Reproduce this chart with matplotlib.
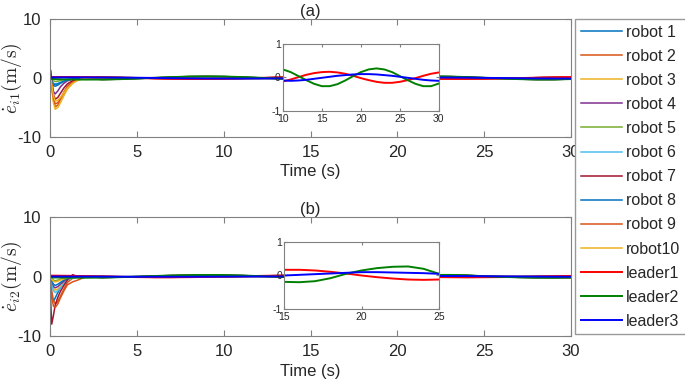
import matplotlib
matplotlib.use('Agg')
import matplotlib.pyplot as plt

plt.rcParams['font.family'] = ['Liberation Sans', 'DejaVu Sans']
plt.rcParams['mathtext.fontset'] = 'cm'
plt.rcParams['axes.unicode_minus'] = False

# leader velocity errors, sampled once per second 0..30 s
t_lead = list(range(0, 31))
leader1_a = [0.16, 0.17, 0.16, 0.12, 0.06, 0.0, -0.07, -0.13, -0.16, -0.16,
             -0.12, -0.06, 0.01, 0.08, 0.13, 0.16, 0.17, 0.15, 0.11, 0.05,
             -0.02, -0.08, -0.13, -0.16, -0.16, -0.13, -0.08, -0.02, 0.05,
             0.11, 0.15]
leader2_a = [-0.17, -0.24, -0.27, -0.26, -0.2, -0.1, 0.03, 0.15, 0.24, 0.27,
             0.24, 0.16, 0.04, -0.08, -0.19, -0.26, -0.26, -0.2, -0.09, 0.04,
             0.16, 0.24, 0.27, 0.24, 0.16, 0.04, -0.08, -0.19, -0.26, -0.26,
             -0.18]
leader3_a = [0.1, 0.1, 0.1, 0.09, 0.07, 0.04, 0.01, -0.03, -0.06, -0.08,
             -0.09, -0.1, -0.09, -0.07, -0.04, -0.01, 0.02, 0.05, 0.07, 0.09,
             0.1, 0.1, 0.09, 0.07, 0.05, 0.02, -0.01, -0.04, -0.07, -0.09,
             -0.1]
leader1_b = [0.15, 0.12, 0.07, 0.01, -0.05, -0.1, -0.13, -0.13, -0.11, -0.07,
             -0.02, 0.04, 0.1, 0.14, 0.17, 0.17, 0.17, 0.15, 0.11, 0.06,
             0.0, -0.05, -0.09, -0.12, -0.13, -0.12, -0.1, -0.06, -0.01,
             0.05, 0.1]
leader2_b = [-0.15, -0.2, -0.21, -0.18, -0.11, -0.02, 0.08, 0.17, 0.23, 0.26,
             0.24, 0.17, 0.07, -0.04, -0.13, -0.19, -0.2, -0.17, -0.08, 0.05,
             0.15, 0.22, 0.26, 0.27, 0.2, 0.05, -0.06, -0.14, -0.19, -0.2,
             -0.18]
leader3_b = [0.0, 0.0, -0.01, -0.02, -0.03, -0.04, -0.04, -0.04, -0.04, -0.03,
             -0.02, -0.01, 0.0, 0.01, 0.01, 0.0, 0.02, 0.04, 0.06, 0.08,
             0.1, 0.1, 0.09, 0.08, 0.07, 0.05, 0.03, 0.01, -0.01, -0.03,
             -0.04]

# robot transients during the first 2 s
t_early = [0, 0.05, 0.1, 0.2, 0.3, 0.45, 0.6, 0.8, 1.0, 1.3, 1.6, 2.0]
robots_a = [
    [0, -0.3, -0.8, -1.3, -1.4, -1.2, -0.9, -0.6, -0.35, -0.15, -0.05, 0.0],
    [0.8, 0.5, -1.5, -3.8, -4.9, -4.6, -3.6, -2.4, -1.4, -0.6, -0.2, 0.05],
    [0.3, 0.0, -1.8, -4.2, -5.3, -5.0, -4.2, -3.0, -1.9, -0.9, -0.35, -0.05],
    [0.2, 0.0, -1.0, -2.3, -2.7, -2.2, -1.5, -0.9, -0.5, -0.2, -0.05, 0.0],
    [0, -0.1, -0.3, -0.5, -0.6, -0.55, -0.45, -0.3, -0.2, -0.1, -0.05, -0.1],
    [0, -0.2, -0.5, -0.9, -1.0, -0.9, -0.75, -0.55, -0.35, -0.15, -0.05, 0.0],
    [1.5, 1.2, -0.5, -2.8, -3.6, -3.3, -2.6, -1.7, -1.0, -0.45, -0.15, 0.0],
    [0, -0.2, -0.6, -1.0, -1.1, -1.0, -0.8, -0.55, -0.35, -0.15, -0.05, 0.0],
    [0.4, 0.2, -1.4, -3.4, -4.4, -4.2, -3.5, -2.5, -1.6, -0.8, -0.3, 0.0],
    [0.2, 0.0, -1.1, -3.0, -3.9, -3.8, -3.3, -2.5, -1.7, -0.9, -0.4, -0.05],
]
robots_b = [
    [0, -1.5, -3.5, -4.2, -3.6, -2.7, -1.9, -1.1, -0.5, -0.1, 0.0, 0.0],
    [0, -1.0, -2.5, -4.0, -4.6, -4.2, -3.3, -2.1, -1.0, -0.3, -0.05, 0.0],
    [0, -0.5, -1.2, -2.0, -2.3, -2.1, -1.7, -1.1, -0.6, -0.2, -0.05, 0.0],
    [0, -0.4, -1.0, -1.7, -1.9, -1.7, -1.3, -0.8, -0.4, -0.1, 0.0, 0.0],
    [0.2, 0.0, -0.3, -0.6, -0.7, -0.6, -0.45, -0.3, -0.15, -0.05, 0.0, 0.0],
    [0, -0.6, -1.5, -2.4, -2.7, -2.4, -1.9, -1.2, -0.6, -0.2, -0.05, 0.0],
    [0, -5.0, -8.0, -6.5, -4.8, -3.5, -2.5, -1.5, -0.6, 0.3, 0.0, 0.0],
    [0, -0.3, -0.8, -1.3, -1.5, -1.3, -1.0, -0.6, -0.3, -0.1, 0.0, 0.0],
    [0, -1.5, -3.5, -5.0, -5.2, -4.6, -3.6, -2.4, -1.4, -0.9, -0.6, -0.1],
    [0, -0.2, -0.5, -0.8, -0.9, -0.8, -0.6, -0.4, -0.2, -0.1, -0.05, 0.0],
]
# which leader each robot ends up tracking (0, 1, 2)
robot_leader = [0, 0, 0, 0, 1, 1, 1, 2, 2, 2]

robot_labels = ['robot 1', 'robot 2', 'robot 3', 'robot 4', 'robot 5',
                'robot 6', 'robot 7', 'robot 8', 'robot 9', 'robot10']
leader_labels = ['leader1', 'leader2', 'leader3']
robot_colors = ['#0072BD', '#D95319', '#EDB120', '#7E2F8E', '#77AC30',
                '#4DBEEE', '#A2142F', '#0072BD', '#D95319', '#EDB120']
leader_colors = ['#FF0000', '#008000', '#0000FF']

AX_GREY = '#808080'
TXT = '#262626'


def style_axes(ax, fs, length, pad):
    for sp in ax.spines.values():
        sp.set_color(AX_GREY)
        sp.set_linewidth(0.8)
    ax.tick_params(direction='in', top=True, right=True, length=length,
                   width=0.8, color=AX_GREY, labelcolor=TXT,
                   labelsize=fs, pad=pad)


def draw_panel(ax, robots, leaders, title, ylabel):
    for i, early in enumerate(robots):
        tail = leaders[robot_leader[i]][3:]
        ax.plot(t_early + t_lead[3:], early + tail, color=robot_colors[i],
                lw=1.1, label=robot_labels[i])
    for j, lead in enumerate(leaders):
        ax.plot(t_lead, lead, color=leader_colors[j], lw=1.4,
                label=leader_labels[j])
    ax.set_xlim(0, 30)
    ax.set_ylim(-10, 10)
    ax.set_xticks([0, 5, 10, 15, 20, 25, 30])
    ax.set_yticks([-10, 0, 10])
    style_axes(ax, 12, 4, 6)
    ax.set_title(title, fontsize=12, color=TXT, pad=2)
    ax.set_xlabel('Time (s)', fontsize=12, color=TXT, labelpad=3)
    ax.set_ylabel(ylabel, fontsize=14, color=TXT)
    ax.yaxis.set_label_coords(-0.05, 0.5)


def draw_inset(fig, rect, leaders, x0, x1, xticks):
    ins = fig.add_axes(rect)
    for j, lead in enumerate(leaders):
        ins.plot(t_lead, lead, color=leader_colors[j], lw=1.4)
    ins.set_xlim(x0, x1)
    ins.set_ylim(-1, 1)
    ins.set_xticks(xticks)
    ins.set_yticks([-1, 0, 1])
    style_axes(ins, 7.5, 2.5, 1.5)
    ins.tick_params(axis='x', pad=2)
    return ins


fig = plt.figure(figsize=(6.85, 3.88), dpi=100)
ax1 = fig.add_axes([0.073, 0.647, 0.7606, 0.304])
ax2 = fig.add_axes([0.073, 0.134, 0.7606, 0.3067])

leaders_a = [leader1_a, leader2_a, leader3_a]
leaders_b = [leader1_b, leader2_b, leader3_b]
draw_panel(ax1, robots_a, leaders_a, '(a)', r'$\dot{e}_{i1}(\mathrm{m/s})$')
draw_panel(ax2, robots_b, leaders_b, '(b)', r'$\dot{e}_{i2}(\mathrm{m/s})$')

draw_inset(fig, [0.413, 0.714, 0.2277, 0.1727], leaders_a, 10, 30,
           [10, 15, 20, 25, 30])
draw_inset(fig, [0.4146, 0.2036, 0.2263, 0.1727], leaders_b, 15, 25,
           [15, 20, 25])

handles, labels = ax1.get_legend_handles_labels()
leg = fig.legend(handles, labels, loc='upper left',
                 bbox_to_anchor=(0.8394, 0.951), borderaxespad=0,
                 fontsize=11.5, handlelength=2.6, handletextpad=0.25,
                 labelspacing=0.57, borderpad=0.35, fancybox=False,
                 framealpha=1, edgecolor='#999999')
for txt in leg.get_texts():
    txt.set_color(TXT)

fig.savefig('out.png', dpi=100)
